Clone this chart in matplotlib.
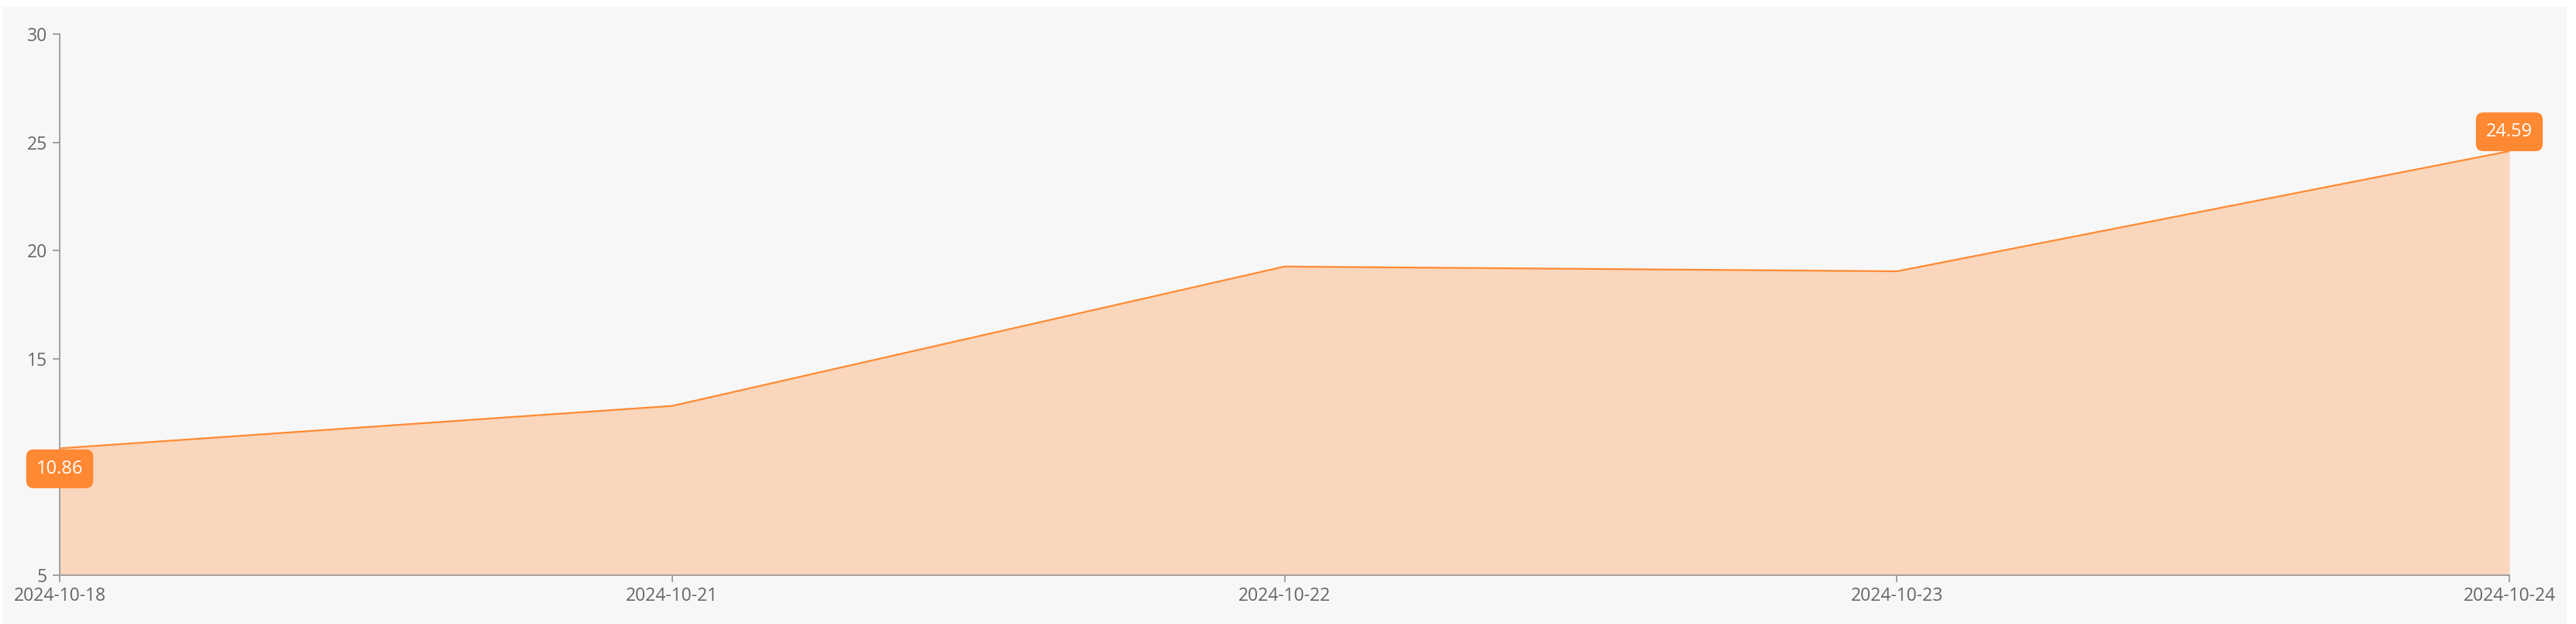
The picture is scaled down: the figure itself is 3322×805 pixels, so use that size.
import matplotlib.pyplot as plt
from matplotlib.patches import Rectangle

dates = ["2024-10-18", "2024-10-21", "2024-10-22", "2024-10-23", "2024-10-24"]
values = [10.86, 12.82, 19.26, 19.04, 24.59]
y_ticks = [5, 10, 15, 20, 25, 30]
y_tick_labels = ["5", "", "15", "20", "25", "30"]

plt.rcParams['font.family'] = ['Open Sans', 'DejaVu Sans']

fig = plt.figure(figsize=(33.22, 8.05), dpi=100)
fig.patch.set_facecolor('white')
# light gray panel behind the chart
fig.patches.append(Rectangle((3 / 3322, 0), (3310 - 3) / 3322, 1 - 9 / 805,
                             transform=fig.transFigure, facecolor='#f7f7f7',
                             edgecolor='none', zorder=-10))

ax = fig.add_axes([77 / 3322, 63 / 805, (3236 - 77) / 3322, (742 - 44) / 805])
ax.set_facecolor('none')

x = list(range(len(dates)))
ax.fill_between(x, values, 5, color='#f9d6bc', linewidth=0, zorder=1)
ax.plot(x, values, color='#ff8a33', linewidth=1.6, zorder=2)

ax.set_xlim(0, len(dates) - 1)
ax.set_ylim(5, 30)
ax.set_xticks(x)
ax.set_xticklabels(dates)
ax.set_yticks(y_ticks)
ax.set_yticklabels(y_tick_labels)

for s in ['top', 'right']:
    ax.spines[s].set_visible(False)
for s in ['left', 'bottom']:
    ax.spines[s].set_color('#9a9a9a')
    ax.spines[s].set_linewidth(1.3)
ax.tick_params(axis='both', colors='#9a9a9a', labelcolor='#666666',
               labelsize=16.5, length=6.5, width=1.3)
ax.tick_params(axis='y', pad=5)
ax.tick_params(axis='x', pad=4)

box = dict(boxstyle='round,pad=0.55,rounding_size=0.4', facecolor='#ff8833',
           edgecolor='none')
ax.annotate(f"{values[0]:.2f}", (x[0], values[0]), xytext=(0, -19),
            textcoords='offset points', ha='center', va='center',
            color='white', fontsize=17, bbox=box, zorder=5)
ax.annotate(f"{values[-1]:.2f}", (x[-1], values[-1]), xytext=(0, 18),
            textcoords='offset points', ha='center', va='center',
            color='white', fontsize=17, bbox=box, zorder=5)

fig.savefig('out.png', dpi=100)
